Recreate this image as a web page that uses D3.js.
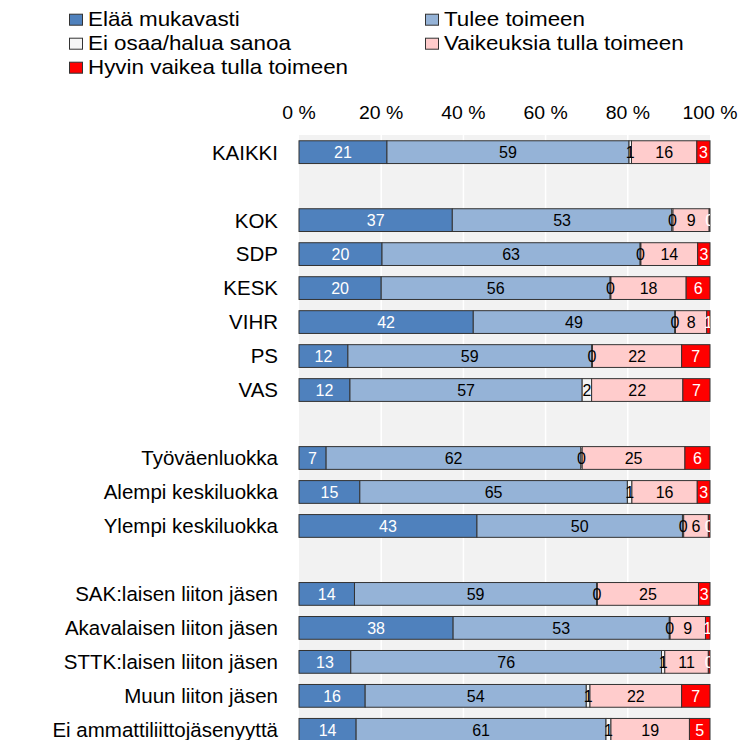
<!DOCTYPE html>
<html>
<head>
<meta charset="utf-8">
<script src="https://cdn.jsdelivr.net/npm/d3@7"></script>
<style>
  body { margin: 0; background: #fff; }
  text { font-family: "Liberation Sans", Arial, sans-serif; }
</style>
</head>
<body>
<div id="chart"></div>
<script>
// rows of the chart, "" = empty gap row
const categories = ["KAIKKI", "", "KOK", "SDP", "KESK", "VIHR", "PS", "VAS", "",
  "Työväenluokka", "Alempi keskiluokka", "Ylempi keskiluokka", "",
  "SAK:laisen liiton jäsen", "Akavalaisen liiton jäsen", "STTK:laisen liiton jäsen",
  "Muun liiton jäsen", "Ei ammattiliittojäsenyyttä"];

const seriesNames = ["Elää mukavasti", "Tulee toimeen", "Ei osaa/halua sanoa",
  "Vaikeuksia tulla toimeen", "Hyvin vaikea tulla toimeen"];

// values per series, same order as categories (null = gap row)
const elaaMukavasti = [21.4, null, 37.3, 20.2, 20.0, 42.4, 11.9, 12.4, null, 6.6, 14.8, 43.3, null, 13.5, 37.5, 12.6, 16.1, 13.9];
const tuleeToimeen  = [58.9, null, 53.4, 62.8, 55.7, 49.0, 59.3, 56.5, null, 62.0, 65.1, 50.0, null, 58.9, 52.6, 75.6, 53.8, 60.8];
const eiOsaa        = [0.6, null, 0.3, 0.2, 0.2, 0.2, 0.2, 2.3, null, 0.3, 1.1, 0.3, null, 0.2, 0.2, 0.8, 0.9, 1.2];
const vaikeuksia    = [15.9, null, 8.8, 13.8, 18.3, 7.6, 21.7, 22.2, null, 25.0, 15.9, 6.0, null, 24.6, 8.6, 10.6, 22.3, 19.1];
const hyvinVaikea   = [3.2, null, 0.2, 3.0, 5.8, 0.8, 6.9, 6.6, null, 6.1, 3.1, 0.4, null, 2.8, 1.1, 0.4, 6.9, 5.0];

const ticks = [0, 20, 40, 60, 80, 100];

const colors = ["#4f81bd", "#95b3d7", "#f5f5f5", "#ffcccc", "#ff0000"];
const labelColors = ["#fff", "#000", "#000", "#000", "#fff"];

const width = 740, height = 740;
const margin = {left: 299, right: 30, top: 135};

const seriesVals = [elaaMukavasti, tuleeToimeen, eiOsaa, vaikeuksia, hyvinVaikea];
const data = categories.map((c, i) => {
  const row = {id: i, cat: c};
  seriesNames.forEach((s, j) => row[s] = seriesVals[j][i] || 0);
  return row;
}).filter(d => d.cat !== "");

const svg = d3.select("#chart").append("svg")
  .attr("width", width).attr("height", height);

const x = d3.scaleLinear().domain([0, 100]).range([margin.left, 710]);
const y = d3.scaleBand().domain(d3.range(categories.length))
  .range([margin.top, margin.top + 34 * categories.length])
  .paddingInner(0.33).paddingOuter(0.17);

// plot background
svg.append("rect")
  .attr("x", x(0)).attr("y", margin.top)
  .attr("width", x(100) - x(0)).attr("height", height - margin.top)
  .attr("fill", "#f2f2f2");

svg.append("g").selectAll("line").data(ticks.slice(1, -1)).join("line")
  .attr("x1", d => x(d)).attr("x2", d => x(d))
  .attr("y1", margin.top).attr("y2", height)
  .attr("stroke", "#fff").attr("stroke-width", 1.5);

// top axis labels (text a bit stretched sideways like the original)
svg.append("g").selectAll("text").data(ticks).join("text")
  .attr("transform", d => `translate(${x(d)},118.5) scale(1.08,1)`)
  .attr("text-anchor", "middle")
  .attr("font-size", 18)
  .text(d => d + " %");

svg.append("clipPath").attr("id", "plotclip")
  .append("rect").attr("x", x(0)).attr("y", margin.top)
  .attr("width", x(100) - x(0)).attr("height", height - margin.top);

const stack = d3.stack().keys(seriesNames);
const layers = stack(data);

const g = svg.append("g");
layers.forEach((layer, j) => {
  g.append("g").selectAll("rect").data(layer).join("rect")
    .attr("x", d => x(d[0]))
    .attr("y", d => y(d.data.id))
    .attr("width", d => x(d[1]) - x(d[0]))
    .attr("height", y.bandwidth())
    .attr("fill", colors[j])
    .attr("stroke", "#333")
    .attr("stroke-width", 1);
});

const lg = svg.append("g").attr("clip-path", "url(#plotclip)");
layers.forEach((layer, j) => {
  lg.append("g").selectAll("text").data(layer).join("text")
    .attr("x", d => (x(d[0]) + x(d[1])) / 2)
    .attr("y", d => y(d.data.id) + y.bandwidth() / 2)
    .attr("dy", "0.37em")
    .attr("text-anchor", "middle")
    .attr("font-size", 16)
    .attr("fill", labelColors[j])
    .text(d => Math.round(d[1] - d[0]));
});

// category labels
svg.append("g").selectAll("text").data(data).join("text")
  .attr("x", 278)
  .attr("y", d => y(d.id) + y.bandwidth() / 2)
  .attr("dy", "0.36em")
  .attr("text-anchor", "end")
  .attr("font-size", 20.5)
  .text(d => d.cat);

// legend
const legendPos = [[69, 25.7], [425, 25.7], [69, 49.7], [425, 49.7], [69, 73.7]];
const legend = svg.append("g").selectAll("g").data(seriesNames).join("g")
  .attr("transform", (d, i) => `translate(${legendPos[i][0]},${legendPos[i][1]})`);
legend.append("rect")
  .attr("x", 0.5).attr("y", -11.5).attr("width", 13).attr("height", 11)
  .attr("fill", (d, i) => colors[i])
  .attr("stroke", "#333").attr("stroke-width", 1);
legend.append("text")
  .attr("transform", "translate(19,0) scale(1.12,1)")
  .attr("font-size", 20)
  .text(d => d);
</script>
</body>
</html>
